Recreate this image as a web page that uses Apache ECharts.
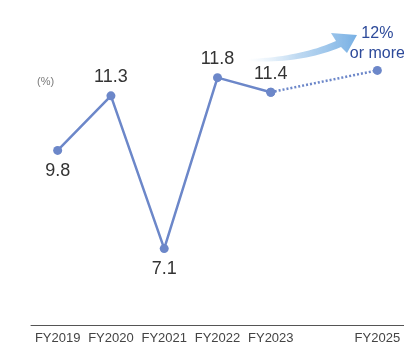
<!DOCTYPE html>
<html><head><meta charset="utf-8">
<script src="https://cdn.jsdelivr.net/npm/echarts@6/dist/echarts.min.js"></script>
<style>html,body{margin:0;padding:0;background:#fff}#c{width:404px;height:348px}</style>
</head><body><div id="c"></div>
<script>
const categories = ['FY2019','FY2020','FY2021','FY2022','FY2023','FY2024','FY2025'];
const actualValues = [9.8, 11.3, 7.1, 11.8, 11.4, null, null];
const targetValues = [null, null, null, null, 11.4, null, 12];
const labelPositions = ['bottom','top','bottom','top','top',null,'top'];
const hiddenTickLabels = ['FY2024'];
const targetLabel = '12%\nor more';

const chart = echarts.init(document.getElementById('c'), null, {renderer:'canvas'});
const lineColor = '#6c87c9';
const actualData = actualValues.map((v,i)=> v==null ? null : ({value:v, label:{position:labelPositions[i], distance: labelPositions[i]==='bottom'?7:5}}));
const targetData = targetValues.map((v,i)=> {
  if (v==null) return null;
  if (i===categories.length-1) return {value:v, label:{show:true, position:'top', distance:2, formatter:targetLabel, color:'#2d4a9a', fontSize:16, lineHeight:20, align:'center', fontFamily:'Liberation Sans'}};
  return {value:v, label:{show:false}};
});
// decorative arrow outline built from quadratic curves
function quad(p0,p1,p2,n){const out=[];for(let k=0;k<=n;k++){const t=k/n,a=(1-t)*(1-t),b=2*(1-t)*t,c=t*t;out.push([a*p0[0]+b*p1[0]+c*p2[0],a*p0[1]+b*p1[1]+c*p2[1]]);}return out;}
const upper = quad([248,59],[300,57],[336,41],20);
const lower = quad([341,47],[300,64],[248,61],20);
const arrowPts = upper.concat([[331,33],[357,35],[347,53]], lower);

chart.setOption({
  animation:false,
  title:{text:'(%)', left:32, top:71, textStyle:{fontSize:11, fontWeight:'normal', color:'#7a7a7a', fontFamily:'Liberation Sans'}},
  grid:{left:31, right:0, top:34, bottom:23},
  xAxis:{type:'category', data:categories, boundaryGap:true,
    axisLine:{lineStyle:{color:'#555', width:1}}, axisTick:{show:false},
    axisLabel:{color:'#444', fontSize:13, margin:7, fontFamily:'Liberation Sans', interval:0,
      formatter:v=> hiddenTickLabels.includes(v)?'':v}},
  yAxis:{type:'value', min:5, max:13, show:false},
  graphic:[{
    type:'polygon', z:1,
    shape:{points:arrowPts},
    style:{fill:{type:'linear', x:0, y:0, x2:1, y2:0, colorStops:[{offset:0,color:'rgba(205,228,246,0)'},{offset:0.45,color:'rgba(175,208,238,0.8)'},{offset:1,color:'#78b0e4'}]}}
  }],
  series:[
    {type:'line', data:actualData, symbol:'circle', symbolSize:9,
      lineStyle:{color:lineColor, width:2.5}, itemStyle:{color:lineColor},
      label:{show:true, color:'#333', fontSize:18, fontFamily:'Liberation Sans'}, z:3},
    {type:'line', data:targetData, connectNulls:true, symbol:'circle', symbolSize:9,
      lineStyle:{color:lineColor, width:2.5, type:[2,2]}, itemStyle:{color:lineColor},
      label:{show:false, fontFamily:'Liberation Sans'}, z:2}
  ]
});
</script></body></html>
